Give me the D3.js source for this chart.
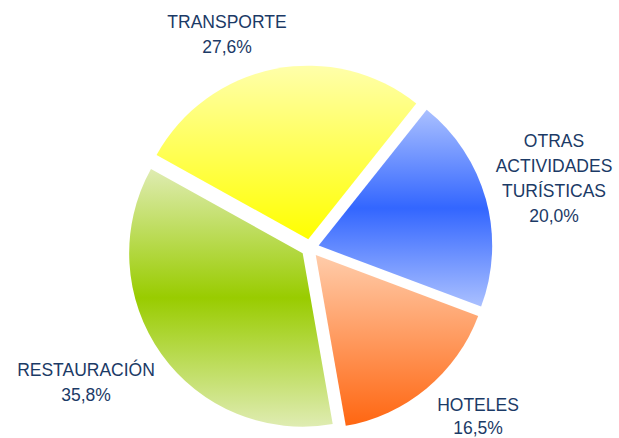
<!DOCTYPE html>
<html>
<head>
<meta charset="utf-8">
<script src="https://cdn.jsdelivr.net/npm/d3@7"></script>
<style>
html,body{margin:0;padding:0;background:#fff;}
svg{display:block;}
</style>
</head>
<body>
<svg id="chart" width="619" height="438"></svg>
<script>
const categories = ["OTRAS|ACTIVIDADES|TURÍSTICAS", "HOTELES", "RESTAURACIÓN", "TRANSPORTE"];
const values = [20.0, 16.5, 35.8, 27.6];
const valueLabels = ["20,0%", "16,5%", "35,8%", "27,6%"];
const gradientStops = [
  [["0%", "#aac0ff"], ["50%", "#3366ff"], ["100%", "#aac0ff"]],
  [["0%", "#ffccaa"], ["100%", "#ff6611"]],
  [["0%", "#dfecb2"], ["50%", "#99cc00"], ["100%", "#dfecb2"]],
  [["0%", "#ffffaa"], ["100%", "#ffff00"]]
];
const labelPos = [[554, 141], [478, 405], [86, 370], [227, 22]];
const lineGap = [25, 22.5, 25, 25];

const svg = d3.select("#chart");
const cx = 310, cy = 248, r = 173.5, explode = 9;
const startAngle = 38.5 * Math.PI / 180;

const defs = svg.append("defs");
gradientStops.forEach((stops, i) => {
  const g = defs.append("linearGradient").attr("id", "g" + i)
    .attr("x1", 0).attr("y1", 0).attr("x2", 0).attr("y2", 1);
  stops.forEach(s => g.append("stop").attr("offset", s[0]).attr("stop-color", s[1]));
});

const pie = d3.pie().sort(null).startAngle(startAngle).endAngle(startAngle + 2 * Math.PI);
const arcs = pie(values);
const arc = d3.arc().innerRadius(0).outerRadius(r);

const g = svg.append("g").attr("transform", `translate(${cx},${cy})`);
g.selectAll("path").data(arcs).enter().append("path")
  .attr("d", arc)
  .attr("fill", (d, i) => `url(#g${i})`)
  .attr("transform", d => {
    const a = (d.startAngle + d.endAngle) / 2;
    return `translate(${explode * Math.sin(a)},${-explode * Math.cos(a)})`;
  });

categories.forEach((c, i) => {
  const lines = c.split("|").concat([valueLabels[i]]);
  const t = svg.append("text")
    .attr("text-anchor", "middle")
    .attr("font-family", "Liberation Sans, Arial, sans-serif")
    .attr("font-size", 17.5)
    .attr("fill", "#1b3a66");
  lines.forEach((l, j) => {
    t.append("tspan").attr("x", labelPos[i][0]).attr("y", labelPos[i][1] + j * lineGap[i])
      .attr("dy", "0.35em").text(l);
  });
});
</script>
</body>
</html>
